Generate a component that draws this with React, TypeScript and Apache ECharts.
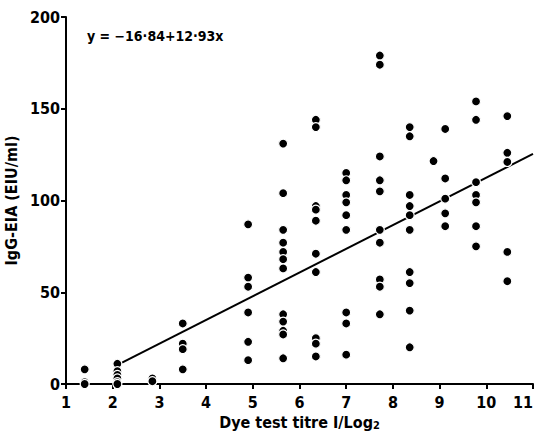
import React, { useEffect, useRef } from "react";
import * as echarts from "echarts";

// Dye test titre (log2) column positions and IgG-EIA values
const col1x = 1.4;
const col1y = [8, 1, 0];
const col2x = 2.1;
const col2y = [11, 7, 5, 3, 1, 0];
const col3x = 2.85;
const col3y = [3, 1.5];
const col4x = 3.5;
const col4y = [33, 22, 19, 8];
const col5x = 4.9;
const col5y = [87, 58, 53, 39, 23, 13];
const col6x = 5.65;
const col6y = [131, 104, 84, 77, 72, 68, 63, 38, 34, 29, 27, 14];
const col7x = 6.35;
const col7y = [144, 140, 97, 95, 89, 71, 61, 25, 22, 15];
const col8x = 7.0;
const col8y = [115, 111, 103, 99, 92, 84, 39, 33, 16];
const col9x = 7.72;
const col9y = [179, 174, 124, 111, 105, 84, 77, 57, 53, 38];
const col10x = 8.36;
const col10y = [140, 135, 103, 97, 92, 84, 61, 55, 40, 20];
const col11x = 8.87;
const col11y = [121.5];
const col12x = 9.12;
const col12y = [139, 112, 101, 93, 86];
const col13x = 9.78;
const col13y = [154, 144, 110, 103, 99, 86, 75];
const col14x = 10.45;
const col14y = [146, 126, 121, 72, 56];

const columns: [number, number[]][] = [
  [col1x, col1y], [col2x, col2y], [col3x, col3y], [col4x, col4y],
  [col5x, col5y], [col6x, col6y], [col7x, col7y], [col8x, col8y],
  [col9x, col9y], [col10x, col10y], [col11x, col11y], [col12x, col12y],
  [col13x, col13y], [col14x, col14y],
];

// Regression line y = -16.84 + 12.93x, endpoints as drawn
const regressionLine = [[2.2, 11.6], [11, 125.4]];
const equationText = "y = −16·84+12·93x";

const xTicks = [1, 11];
const yTicks = [0, 200];

const FONT = "'DejaVu Sans Condensed', 'DejaVu Sans', sans-serif";

export default function App() {
  const ref = useRef<HTMLDivElement>(null);
  useEffect(() => {
    if (!ref.current) return;
    const chart = echarts.init(ref.current, null, { renderer: "svg" });
    const points: number[][] = [];
    columns.forEach(([x, ys]) => ys.forEach((y) => points.push([x, y])));
    chart.setOption({
      animation: false,
      backgroundColor: "#fff",
      grid: { left: 66, right: 3, top: 17, bottom: 51, containLabel: false, outerBoundsMode: "none" },
      xAxis: {
        type: "value",
        min: xTicks[0],
        max: xTicks[1],
        interval: 1,
        name: "Dye test titre I/Log{sub|2}",
        nameLocation: "middle",
        nameGap: 30,
        nameTextStyle: {
          fontFamily: FONT,
          fontWeight: "bold",
          fontSize: 16,
          color: "#000",
          rich: {
            sub: { fontFamily: FONT, fontWeight: "bold", fontSize: 11, verticalAlign: "bottom", padding: [5, 0, 0, 0], color: "#000" },
          },
        },
        axisLine: { show: true, lineStyle: { color: "#000", width: 2 } },
        axisTick: { show: true, length: 5, lineStyle: { color: "#000", width: 2 } },
        axisLabel: { color: "#000", fontFamily: FONT, fontWeight: "bold", fontSize: 16, margin: 10, alignMaxLabel: "right" },
        splitLine: { show: false },
      },
      yAxis: {
        type: "value",
        min: yTicks[0],
        max: yTicks[1],
        interval: 50,
        name: "IgG-EIA (EIU/ml)",
        nameLocation: "middle",
        nameGap: 36,
        nameTextStyle: { fontFamily: FONT, fontWeight: "bold", fontSize: 16, color: "#000" },
        axisLine: { show: true, lineStyle: { color: "#000", width: 2 } },
        axisTick: { show: true, length: 5, lineStyle: { color: "#000", width: 2 } },
        axisLabel: { color: "#000", fontFamily: FONT, fontWeight: "bold", fontSize: 16, margin: 6 },
        splitLine: { show: false },
      },
      graphic: [
        {
          type: "text",
          left: 87,
          top: 29,
          style: { text: equationText, fontFamily: FONT, fontWeight: "bold", fontSize: 14, fill: "#000" },
        },
      ],
      series: [
        {
          type: "line",
          data: regressionLine,
          symbol: "none",
          lineStyle: { color: "#000", width: 2 },
          z: 2,
        },
        {
          type: "scatter",
          data: points,
          symbol: "circle",
          symbolSize: 9,
          itemStyle: { color: "#000", opacity: 1, borderColor: "#fff", borderWidth: 1.2 },
          z: 3,
        },
      ],
    });
    return () => chart.dispose();
  }, []);
  return (
    <div
      ref={ref}
      style={{ position: "absolute", left: 0, top: 0, width: 536, height: 435 }}
    />
  );
}
